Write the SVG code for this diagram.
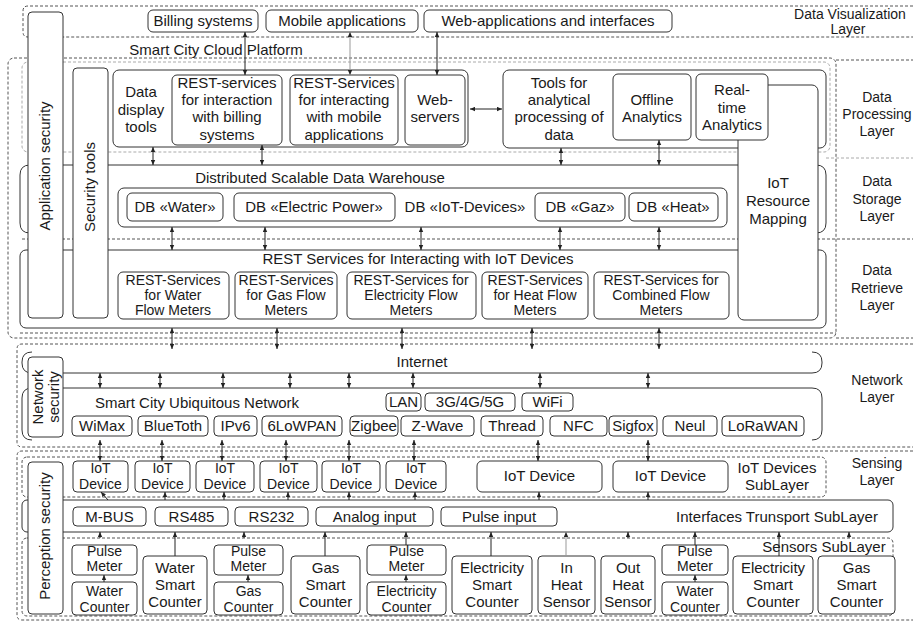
<svg xmlns="http://www.w3.org/2000/svg" width="913" height="622" viewBox="0 0 913 622">
<defs>
<style>
.b{fill:#fff;stroke:#333;stroke-width:1}
.o{fill:none;stroke:#333;stroke-width:1}
.d{fill:none;stroke:#555;stroke-width:1;stroke-dasharray:3 2}
.g{fill:none;stroke:#aaa;stroke-width:1;stroke-dasharray:3 2}
.t{font-family:"Liberation Sans",Arial,sans-serif;font-size:15px;fill:#1a1a1a;text-anchor:middle}
.s{font-size:14px}
.r{font-size:14px}
.c{stroke:#222;stroke-width:1;fill:none;marker-start:url(#ah);marker-end:url(#ah)}
.u{stroke:#222;stroke-width:1;fill:none;marker-end:url(#ah)}
</style>
<marker id="ah" viewBox="0 0 8 8" refX="8" refY="4" markerWidth="5" markerHeight="5" markerUnits="userSpaceOnUse" orient="auto-start-reverse"><path d="M0,0.5 L8,4 L0,7.5 z" fill="#222"/></marker>
</defs>
<rect width="913" height="622" fill="#fff"/>

<g id="layers">
<path class="d" d="M913 6 H28 Q23 6 23 11 V32 Q23 37 28 37 H913"/>
<rect class="d" x="8" y="58" width="828" height="280" rx="6"/>
<path class="d" d="M836 60 H913 M836 338 H913 M20 333 H836"/>
<path class="g" d="M826 158 H913"/>
<rect class="g" x="22" y="62" width="808" height="90" rx="6"/>
<path class="o" d="M30 233 Q20 233 20 223 V175 Q20 165 30 165 H816 Q826 165 826 175 V223 Q826 233 816 233"/>
<path class="d" d="M22 239 H913"/>
<rect class="o" x="20" y="250" width="806" height="78" rx="6"/>
<path class="d" d="M913 344 H22 Q17 344 17 349 V442 Q17 447 22 447 H913"/>
<path class="o" d="M32 352 Q22 352 22 362 V363 Q22 373 32 373 H812 Q822 373 822 363 V362 Q822 352 812 352"/>
<path class="o" d="M32 440 Q22 440 22 430 V398 Q22 388 32 388 H812 Q822 388 822 398 V430 Q822 440 812 440"/>
<path class="d" d="M913 451 H22 Q17 451 17 456 V615 Q17 620 22 620 H913"/>
<rect class="d" x="22" y="457" width="804" height="40" rx="5"/>
<rect class="o" x="22" y="500" width="871" height="32" rx="5"/>
<rect class="d" x="22" y="538" width="871" height="78" rx="5"/>
<text class="t" x="216" y="55">Smart City Cloud Platform</text>
<text class="t s" x="850" y="19">Data Visualization<tspan x="848" y="34">Layer</tspan></text>
<text class="t s" x="877" y="102">Data<tspan x="877" y="119">Processing</tspan><tspan x="877" y="136">Layer</tspan></text>
<text class="t s" x="877" y="186">Data<tspan x="877" y="204">Storage</tspan><tspan x="877" y="221">Layer</tspan></text>
<text class="t s" x="877" y="275">Data<tspan x="877" y="293">Retrieve</tspan><tspan x="877" y="310">Layer</tspan></text>
<text class="t s" x="877" y="385">Network<tspan x="877" y="402">Layer</tspan></text>
<text class="t s" x="877" y="468">Sensing<tspan x="877" y="485">Layer</tspan></text>
</g>

<g id="app-security"><rect class="b" x="28" y="12" width="35" height="306" rx="4"/><text class="t" transform="translate(50,166) rotate(-90)">Application security</text></g>
<g id="security-tools"><rect class="b" x="73" y="68" width="35" height="250" rx="4"/><text class="t" transform="translate(95,187) rotate(-90)">Security tools</text></g>

<g id="billing-systems"><rect class="b" x="148" y="10" width="110" height="22" rx="5"/><text class="t" x="203" y="26">Billing systems</text></g>
<g id="mobile-applications"><rect class="b" x="266" y="10" width="152" height="22" rx="5"/><text class="t" x="342" y="26">Mobile applications</text></g>
<g id="web-applications"><rect class="b" x="424" y="10" width="248" height="22" rx="5"/><text class="t" x="548" y="26">Web-applications and interfaces</text></g>

<g id="processing-left"><rect class="b" x="113" y="70" width="355" height="77" rx="6"/>
<text class="t" x="141" y="97">Data<tspan x="141" y="115">display</tspan><tspan x="141" y="132">tools</tspan></text></g>
<g id="rest-billing"><rect class="b" x="172" y="75" width="110" height="70" rx="5"/><text class="t" x="227" y="88">REST-services<tspan x="227" y="105">for interaction</tspan><tspan x="227" y="122">with billing</tspan><tspan x="227" y="140">systems</tspan></text></g>
<g id="rest-mobile"><rect class="b" x="290" y="75" width="108" height="70" rx="5"/><text class="t" x="344" y="88">REST-Services<tspan x="344" y="105">for interacting</tspan><tspan x="344" y="122">with mobile</tspan><tspan x="344" y="140">applications</tspan></text></g>
<g id="web-servers"><rect class="b" x="405" y="75" width="60" height="70" rx="5"/><text class="t" x="435" y="105">Web-<tspan x="435" y="122">servers</tspan></text></g>
<g id="analytics-tools"><rect class="b" x="503" y="70" width="323" height="78" rx="6"/><text class="t" x="559" y="88">Tools for<tspan x="559" y="105">analytical</tspan><tspan x="559" y="122">processing of</tspan><tspan x="559" y="140">data</tspan></text></g>
<g id="offline-analytics"><rect class="b" x="613" y="74" width="78" height="66" rx="5"/><text class="t" x="652" y="105">Offline<tspan x="652" y="122">Analytics</tspan></text></g>
<g id="iot-resource-mapping"><rect class="b" x="738" y="85" width="80" height="235" rx="6"/><text class="t" x="778" y="188">IoT<tspan x="778" y="206">Resource</tspan><tspan x="778" y="224">Mapping</tspan></text></g>
<g id="realtime-analytics"><rect class="b" x="696" y="74" width="72" height="66" rx="5"/><text class="t" x="732" y="95">Real-<tspan x="732" y="113">time</tspan><tspan x="732" y="130">Analytics</tspan></text></g>

<g id="warehouse"><text class="t" x="320" y="183">Distributed Scalable Data Warehouse</text><rect class="b" x="118" y="188" width="609" height="39" rx="6"/>
<text class="t" x="465" y="212">DB «IoT-Devices»</text></g>
<g id="db-water"><rect class="b" x="127" y="193" width="96" height="28" rx="5"/><text class="t" x="175" y="212">DB «Water»</text></g>
<g id="db-electric"><rect class="b" x="234" y="193" width="161" height="28" rx="5"/><text class="t" x="314" y="212">DB «Electric Power»</text></g>
<g id="db-gaz"><rect class="b" x="535" y="193" width="90" height="28" rx="5"/><text class="t" x="580" y="212">DB «Gaz»</text></g>
<g id="db-heat"><rect class="b" x="629" y="193" width="89" height="28" rx="5"/><text class="t" x="673" y="212">DB «Heat»</text></g>

<g id="rest-iot"><text class="t" x="418" y="264">REST Services for Interacting with IoT Devices</text></g>
<g id="rest-water"><rect class="b" x="118" y="272" width="111" height="47" rx="5"/><text class="t r" x="173" y="285">REST-Services<tspan x="173" y="300">for Water</tspan><tspan x="173" y="315">Flow Meters</tspan></text></g>
<g id="rest-gas"><rect class="b" x="235" y="272" width="102" height="47" rx="5"/><text class="t r" x="286" y="285">REST-Services<tspan x="286" y="300">for Gas Flow</tspan><tspan x="286" y="315">Meters</tspan></text></g>
<g id="rest-electricity"><rect class="b" x="347" y="272" width="129" height="47" rx="5"/><text class="t r" x="411" y="285">REST-Services for<tspan x="411" y="300">Electricity Flow</tspan><tspan x="411" y="315">Meters</tspan></text></g>
<g id="rest-heat"><rect class="b" x="482" y="272" width="106" height="47" rx="5"/><text class="t r" x="535" y="285">REST-Services<tspan x="535" y="300">for Heat Flow</tspan><tspan x="535" y="315">Meters</tspan></text></g>
<g id="rest-combined"><rect class="b" x="594" y="272" width="135" height="47" rx="5"/><text class="t r" x="661" y="285">REST-Services for<tspan x="661" y="300">Combined Flow</tspan><tspan x="661" y="315">Meters</tspan></text></g>

<g id="network-security"><rect class="b" x="28" y="357" width="35" height="80" rx="4"/><text class="t" transform="translate(43,397) rotate(-90)">Network</text><text class="t" transform="translate(59,397) rotate(-90)">security</text></g>
<g id="internet"><text class="t" x="422" y="367">Internet</text></g>
<g id="ubiquitous"><text class="t" x="197" y="408">Smart City Ubiquitous Network</text></g>
<g id="lan"><rect class="b" x="386" y="393" width="35" height="18" rx="4"/><text class="t" x="403.5" y="407">LAN</text></g>
<g id="g345"><rect class="b" x="425" y="393" width="90" height="18" rx="4"/><text class="t" x="470" y="407">3G/4G/5G</text></g>
<g id="wifi"><rect class="b" x="522" y="393" width="51" height="18" rx="4"/><text class="t" x="547.5" y="407">WiFi</text></g>
<g id="wimax"><rect class="b" x="72" y="416" width="60" height="20" rx="4"/><text class="t" x="102" y="431">WiMax</text></g>
<g id="bluetooth"><rect class="b" x="138" y="416" width="70" height="20" rx="4"/><text class="t" x="173" y="431">BlueToth</text></g>
<g id="ipv6"><rect class="b" x="214" y="416" width="43" height="20" rx="4"/><text class="t" x="235.5" y="431">IPv6</text></g>
<g id="6lowpan"><rect class="b" x="262" y="416" width="80" height="20" rx="4"/><text class="t" x="302" y="431">6LoWPAN</text></g>
<g id="zigbee"><rect class="b" x="350" y="416" width="48" height="20" rx="4"/><text class="t" x="374" y="431">Zigbee</text></g>
<g id="zwave"><rect class="b" x="401" y="416" width="73" height="20" rx="4"/><text class="t" x="437.5" y="431">Z-Wave</text></g>
<g id="thread"><rect class="b" x="481" y="416" width="62" height="20" rx="4"/><text class="t" x="512" y="431">Thread</text></g>
<g id="nfc"><rect class="b" x="550" y="416" width="57" height="20" rx="4"/><text class="t" x="578.5" y="431">NFC</text></g>
<g id="sigfox"><rect class="b" x="609" y="416" width="48" height="20" rx="4"/><text class="t" x="633" y="431">Sigfox</text></g>
<g id="neul"><rect class="b" x="663" y="416" width="54" height="20" rx="4"/><text class="t" x="690" y="431">Neul</text></g>
<g id="lorawan"><rect class="b" x="722" y="416" width="82" height="20" rx="4"/><text class="t" x="763" y="431">LoRaWAN</text></g>

<g id="perception-security"><rect class="b" x="28" y="462" width="35" height="152" rx="4"/><text class="t" transform="translate(50,536) rotate(-90)">Perception security</text></g>
<g id="iot-sublayer"><text class="t" x="777" y="473">IoT Devices<tspan x="777" y="490">SubLayer</tspan></text></g>
<g id="iot1"><rect class="b" x="73" y="461" width="55" height="31" rx="4"/><text class="t r" x="100.5" y="473">IoT<tspan x="100.5" y="489">Device</tspan></text></g>
<g id="iot2"><rect class="b" x="135" y="461" width="55" height="31" rx="4"/><text class="t r" x="162.5" y="473">IoT<tspan x="162.5" y="489">Device</tspan></text></g>
<g id="iot3"><rect class="b" x="196" y="461" width="58" height="31" rx="4"/><text class="t r" x="225" y="473">IoT<tspan x="225" y="489">Device</tspan></text></g>
<g id="iot4"><rect class="b" x="260" y="461" width="57" height="31" rx="4"/><text class="t r" x="288.5" y="473">IoT<tspan x="288.5" y="489">Device</tspan></text></g>
<g id="iot5"><rect class="b" x="322" y="461" width="58" height="31" rx="4"/><text class="t r" x="351" y="473">IoT<tspan x="351" y="489">Device</tspan></text></g>
<g id="iot6"><rect class="b" x="386" y="461" width="60" height="31" rx="4"/><text class="t r" x="416" y="473">IoT<tspan x="416" y="489">Device</tspan></text></g>
<g id="iot7"><rect class="b" x="477" y="461" width="125" height="31" rx="5"/><text class="t" x="539.5" y="481">IoT Device</text></g>
<g id="iot8"><rect class="b" x="613" y="461" width="115" height="31" rx="5"/><text class="t" x="670.5" y="481">IoT Device</text></g>

<g id="interfaces"><text class="t" x="777" y="522">Interfaces Trunsport SubLayer</text></g>
<g id="mbus"><rect class="b" x="73" y="507" width="73" height="19" rx="4"/><text class="t" x="109.5" y="522">M-BUS</text></g>
<g id="rs485"><rect class="b" x="155" y="507" width="73" height="19" rx="4"/><text class="t" x="191.5" y="522">RS485</text></g>
<g id="rs232"><rect class="b" x="235" y="507" width="73" height="19" rx="4"/><text class="t" x="271.5" y="522">RS232</text></g>
<g id="analog"><rect class="b" x="316" y="507" width="117" height="19" rx="4"/><text class="t" x="374.5" y="522">Analog input</text></g>
<g id="pulse-input"><rect class="b" x="441" y="507" width="116" height="19" rx="4"/><text class="t" x="499" y="522">Pulse input</text></g>

<g id="sensors"><text class="t" x="824" y="552">Sensors SubLayer</text></g>
<g id="pm1"><rect class="b" x="72" y="545" width="65" height="30" rx="4"/><text class="t r" x="104.5" y="556">Pulse<tspan x="104.5" y="571">Meter</tspan></text></g>
<g id="wc1"><rect class="b" x="72" y="582" width="65" height="33" rx="4"/><text class="t r" x="104.5" y="596">Water<tspan x="104.5" y="612">Counter</tspan></text></g>
<g id="wsc"><rect class="b" x="143" y="556" width="64" height="58" rx="4"/><text class="t" x="175" y="573">Water<tspan x="175" y="590">Smart</tspan><tspan x="175" y="607">Counter</tspan></text></g>
<g id="pm2"><rect class="b" x="214" y="545" width="69" height="30" rx="4"/><text class="t r" x="248.5" y="556">Pulse<tspan x="248.5" y="571">Meter</tspan></text></g>
<g id="gc"><rect class="b" x="214" y="582" width="69" height="33" rx="4"/><text class="t r" x="248.5" y="596">Gas<tspan x="248.5" y="612">Counter</tspan></text></g>
<g id="gsc1"><rect class="b" x="291" y="556" width="69" height="58" rx="4"/><text class="t" x="325.5" y="573">Gas<tspan x="325.5" y="590">Smart</tspan><tspan x="325.5" y="607">Counter</tspan></text></g>
<g id="pm3"><rect class="b" x="367" y="545" width="79" height="30" rx="4"/><text class="t r" x="406.5" y="556">Pulse<tspan x="406.5" y="571">Meter</tspan></text></g>
<g id="ec"><rect class="b" x="367" y="582" width="79" height="33" rx="4"/><text class="t r" x="406.5" y="596">Electricity<tspan x="406.5" y="612">Counter</tspan></text></g>
<g id="esc1"><rect class="b" x="452" y="556" width="80" height="58" rx="4"/><text class="t" x="492" y="573">Electricity<tspan x="492" y="590">Smart</tspan><tspan x="492" y="607">Counter</tspan></text></g>
<g id="inheat"><rect class="b" x="538" y="556" width="57" height="58" rx="4"/><text class="t" x="566.5" y="573">In<tspan x="566.5" y="590">Heat</tspan><tspan x="566.5" y="607">Sensor</tspan></text></g>
<g id="outheat"><rect class="b" x="601" y="556" width="54" height="58" rx="4"/><text class="t" x="628" y="573">Out<tspan x="628" y="590">Heat</tspan><tspan x="628" y="607">Sensor</tspan></text></g>
<g id="pm4"><rect class="b" x="662" y="545" width="66" height="30" rx="4"/><text class="t r" x="695" y="556">Pulse<tspan x="695" y="571">Meter</tspan></text></g>
<g id="wc2"><rect class="b" x="662" y="582" width="66" height="33" rx="4"/><text class="t r" x="695" y="596">Water<tspan x="695" y="612">Counter</tspan></text></g>
<g id="esc2"><rect class="b" x="733" y="556" width="80" height="58" rx="4"/><text class="t" x="773" y="573">Electricity<tspan x="773" y="590">Smart</tspan><tspan x="773" y="607">Counter</tspan></text></g>
<g id="gsc2"><rect class="b" x="818" y="556" width="77" height="58" rx="4"/><text class="t" x="856.5" y="573">Gas<tspan x="856.5" y="590">Smart</tspan><tspan x="856.5" y="607">Counter</tspan></text></g>

<g id="connectors">
<path class="c" d="M245 32 V75"/>
<path class="c" d="M350 32 V75" style="stroke:#999"/>
<path class="c" d="M437 32 V75"/>
<path class="c" d="M470 109 H502"/>
<path class="c" d="M153 147 V165"/>
<path class="c" d="M262 145 V165"/>
<path class="c" d="M561 148 V165"/>
<path class="c" d="M659 140 V165"/>
<path class="c" d="M172 227 V250"/>
<path class="c" d="M265 227 V250"/>
<path class="c" d="M421 227 V250"/>
<path class="c" d="M560 227 V250"/>
<path class="c" d="M659 227 V250"/>
<path class="c" d="M172 328 V349"/>
<path class="c" d="M277 328 V349"/>
<path class="c" d="M402 328 V349"/>
<path class="c" d="M532 328 V349"/>
<path class="c" d="M659 328 V349"/>
<path class="c" d="M100 373 V388"/>
<path class="c" d="M160 373 V388"/>
<path class="c" d="M223 373 V388"/>
<path class="c" d="M290 373 V388"/>
<path class="c" d="M349 373 V388"/>
<path class="c" d="M413 373 V388"/>
<path class="c" d="M540 373 V388"/>
<path class="c" d="M648 373 V388"/>
<path class="c" d="M100 440 V461"/>
<path class="c" d="M162 440 V461"/>
<path class="c" d="M222 440 V461"/>
<path class="c" d="M286 440 V461"/>
<path class="c" d="M349 440 V461"/>
<path class="c" d="M414 440 V461"/>
<path class="c" d="M538 440 V461"/>
<path class="c" d="M648 440 V461"/>
<path class="u" d="M108 500 L101 492"/>
<path class="u" d="M165 500 V492"/>
<path class="u" d="M224 500 V492"/>
<path class="u" d="M288 500 V492"/>
<path class="u" d="M349 500 V492"/>
<path class="u" d="M415 500 V492"/>
<path class="u" d="M539 500 V492"/>
<path class="u" d="M648 500 V492"/>
<path class="u" d="M100 538 V532"/>
<path class="u" d="M175 556 V532"/>
<path class="u" d="M244 538 V532"/>
<path class="u" d="M325 556 V532"/>
<path class="u" d="M406 545 V532"/>
<path class="u" d="M491 556 V532"/>
<path class="u" d="M566 556 V532" style="stroke:#999"/>
<path class="u" d="M628 538 V532"/>
<path class="u" d="M695 545 V532"/>
<path class="u" d="M779 556 V532"/>
<path class="u" d="M849 538 V532"/>
<path class="u" d="M104 582 V575"/>
<path class="u" d="M248 582 V575"/>
<path class="u" d="M406 582 V575"/>
<path class="u" d="M695 582 V575"/>
</g>
</svg>
